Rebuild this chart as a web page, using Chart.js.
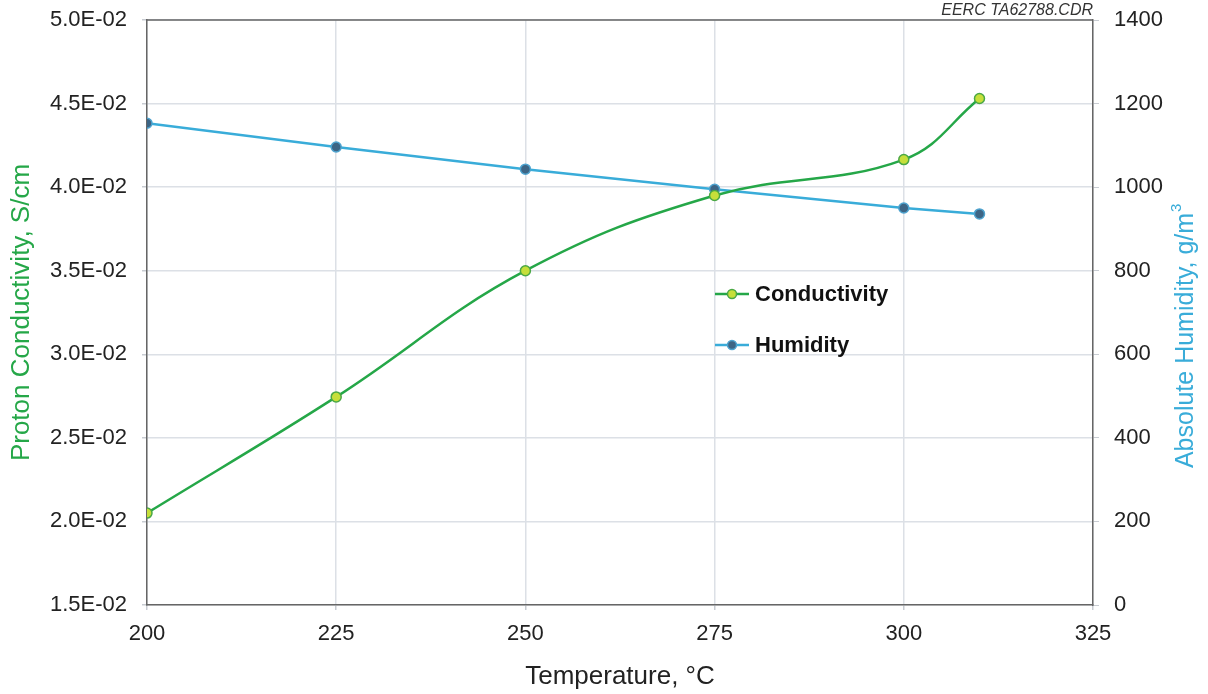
<!DOCTYPE html>
<html>
<head>
<meta charset="utf-8">
<script src="https://cdn.jsdelivr.net/npm/chart.js@4/dist/chart.umd.min.js"></script>
<style>
  html, body { margin: 0; padding: 0; background: #fff; }
  #wrap { position: relative; width: 1208px; height: 694px; }
  #note {
    position: absolute; right: 115px; top: 1px;
    font: italic 16px "Liberation Sans", Arial, sans-serif; color: #333;
  }
</style>
</head>
<body>
<div id="wrap">
  <canvas id="chart"></canvas>
  <div id="note">EERC TA62788.CDR</div>
</div>
<script>
// temperatures (°C)
const temperatures = [200, 225, 250, 275, 300, 310];
// proton conductivity, S/cm
const conductivity = [0.0205, 0.02745, 0.0350, 0.0395, 0.04165, 0.0453];
// absolute humidity, g/m3
const humidity = [1153, 1096, 1043, 995, 950, 936];

const seriesNames = ["Conductivity", "Humidity"];

const FONT = '"Liberation Sans", Arial, sans-serif';
const GREEN = "#25a748";
const BLUE = "#39acd9";
const GRID = "#dce0e6";

function toPoints(ys) {
  return temperatures.map((t, i) => ({ x: t, y: ys[i] }));
}

function sciLabel(v) {
  // 0.05 -> 5.0E-02
  const parts = v.toExponential(1).split("e");
  const exp = parseInt(parts[1], 10);
  const sign = exp < 0 ? "-" : "+";
  return parts[0] + "E" + sign + String(Math.abs(exp)).padStart(2, "0");
}

// legend drawn inside the plot area
const innerLegend = {
  id: "innerLegend",
  afterDraw(chart) {
    const ctx = chart.ctx;
    const a = chart.chartArea;
    const x0 = a.left + 568;
    const rows = [
      { y: a.top + 274, line: GREEN, fill: "#c6df3a", border: "#4aa845", text: seriesNames[0] },
      { y: a.top + 325, line: BLUE, fill: "#3d6585", border: "#4ea3cf", text: seriesNames[1] },
    ];
    ctx.save();
    rows.forEach((r) => {
      ctx.strokeStyle = r.line;
      ctx.lineWidth = 2.5;
      ctx.beginPath();
      ctx.moveTo(x0, r.y);
      ctx.lineTo(x0 + 34, r.y);
      ctx.stroke();
      ctx.beginPath();
      ctx.arc(x0 + 17, r.y, 4.5, 0, Math.PI * 2);
      ctx.fillStyle = r.fill;
      ctx.fill();
      ctx.lineWidth = 1.5;
      ctx.strokeStyle = r.border;
      ctx.stroke();
      ctx.fillStyle = "#111";
      ctx.font = "bold 22px " + FONT;
      ctx.textBaseline = "middle";
      ctx.fillText(r.text, x0 + 40, r.y + 1);
    });
    ctx.restore();
  },
};

// right axis title, read bottom-to-top like the left one, with superscript 3
const rightTitle = {
  id: "rightTitle",
  afterDraw(chart) {
    const ctx = chart.ctx;
    const a = chart.chartArea;
    const main = "Absolute Humidity, g/m";
    ctx.save();
    ctx.translate(1186, (a.top + a.bottom) / 2 + 28);
    ctx.rotate(-Math.PI / 2);
    ctx.font = "25px " + FONT;
    const w = ctx.measureText(main).width;
    ctx.fillStyle = BLUE;
    ctx.textBaseline = "middle";
    ctx.textAlign = "left";
    ctx.fillText(main, -w / 2, 0);
    ctx.font = "15px " + FONT;
    ctx.fillText("3", w / 2 + 1, -9);
    ctx.restore();
  },
};

// fixed axis sizes so the plot area sits where the original has it
function fixVertical(width) {
  return (scale) => {
    scale.width = width;
    scale.paddingTop = 0;
    scale.paddingBottom = 0;
  };
}

new Chart(document.getElementById("chart"), {
  type: "line",
  data: {
    datasets: [
      {
        label: seriesNames[0],
        data: toPoints(conductivity),
        yAxisID: "y",
        borderColor: GREEN,
        borderWidth: 2.5,
        backgroundColor: "#c6df3a",
        pointBackgroundColor: "#c6df3a",
        pointBorderColor: "#4aa845",
        pointBorderWidth: 1.5,
        pointRadius: 5,
        tension: 0.4,
        fill: false,
      },
      {
        label: seriesNames[1],
        data: toPoints(humidity),
        yAxisID: "y1",
        borderColor: BLUE,
        borderWidth: 2.5,
        backgroundColor: "#3d6585",
        pointBackgroundColor: "#3d6585",
        pointBorderColor: "#4ea3cf",
        pointBorderWidth: 1.5,
        pointRadius: 5,
        tension: 0,
        fill: false,
      },
    ],
  },
  options: {
    responsive: true,
    maintainAspectRatio: false,
    animation: false,
    layout: { padding: { top: 20, left: 0, right: 0, bottom: 0 } },
    plugins: {
      legend: { display: false },
      tooltip: { enabled: false },
    },
    scales: {
      x: {
        type: "linear",
        min: 200,
        max: 325,
        ticks: { stepSize: 25, color: "#222", font: { family: FONT, size: 22 }, padding: 11 },
        grid: { color: GRID, lineWidth: 1.5, tickLength: 5, tickColor: "#c8ccd2" },
        border: { color: "#666", width: 1.5 },
        title: {
          display: true,
          text: "Temperature, °C",
          color: "#222",
          font: { family: FONT, size: 26 },
          padding: { top: 8, bottom: 2 },
        },
        afterFit(scale) {
          scale.height = 89;
          scale.paddingLeft = 0;
          scale.paddingRight = 0;
        },
      },
      y: {
        position: "left",
        min: 0.015,
        max: 0.05,
        ticks: {
          stepSize: 0.005,
          color: "#222",
          font: { family: FONT, size: 22 },
          padding: 15,
          callback: (v) => sciLabel(v),
        },
        grid: { color: GRID, lineWidth: 1.5, tickLength: 5, tickColor: "#c8ccd2" },
        border: { color: "#666", width: 1.5 },
        title: {
          display: true,
          text: "Proton Conductivity, S/cm",
          color: GREEN,
          font: { family: FONT, size: 26 },
          padding: { top: 6, bottom: 0 },
        },
        afterFit: fixVertical(147),
      },
      y1: {
        position: "right",
        min: 0,
        max: 1400,
        ticks: {
          stepSize: 200,
          color: "#222",
          font: { family: FONT, size: 22 },
          padding: 15,
          callback: (v) => String(v),
        },
        grid: { drawOnChartArea: false, tickLength: 6, tickColor: "#c8ccd2" },
        border: { color: "#666", width: 1.5 },
        title: { display: false },
        afterFit: fixVertical(115),
      },
    },
  },
  plugins: [
    innerLegend,
    rightTitle,
    {
      id: "topBorder",
      afterDraw(chart) {
        const a = chart.chartArea;
        const ctx = chart.ctx;
        ctx.save();
        ctx.strokeStyle = "#666";
        ctx.lineWidth = 1.5;
        ctx.beginPath();
        ctx.moveTo(a.left, a.top);
        ctx.lineTo(a.right, a.top);
        ctx.stroke();
        ctx.restore();
      },
    },
  ],
});
</script>
</body>
</html>
